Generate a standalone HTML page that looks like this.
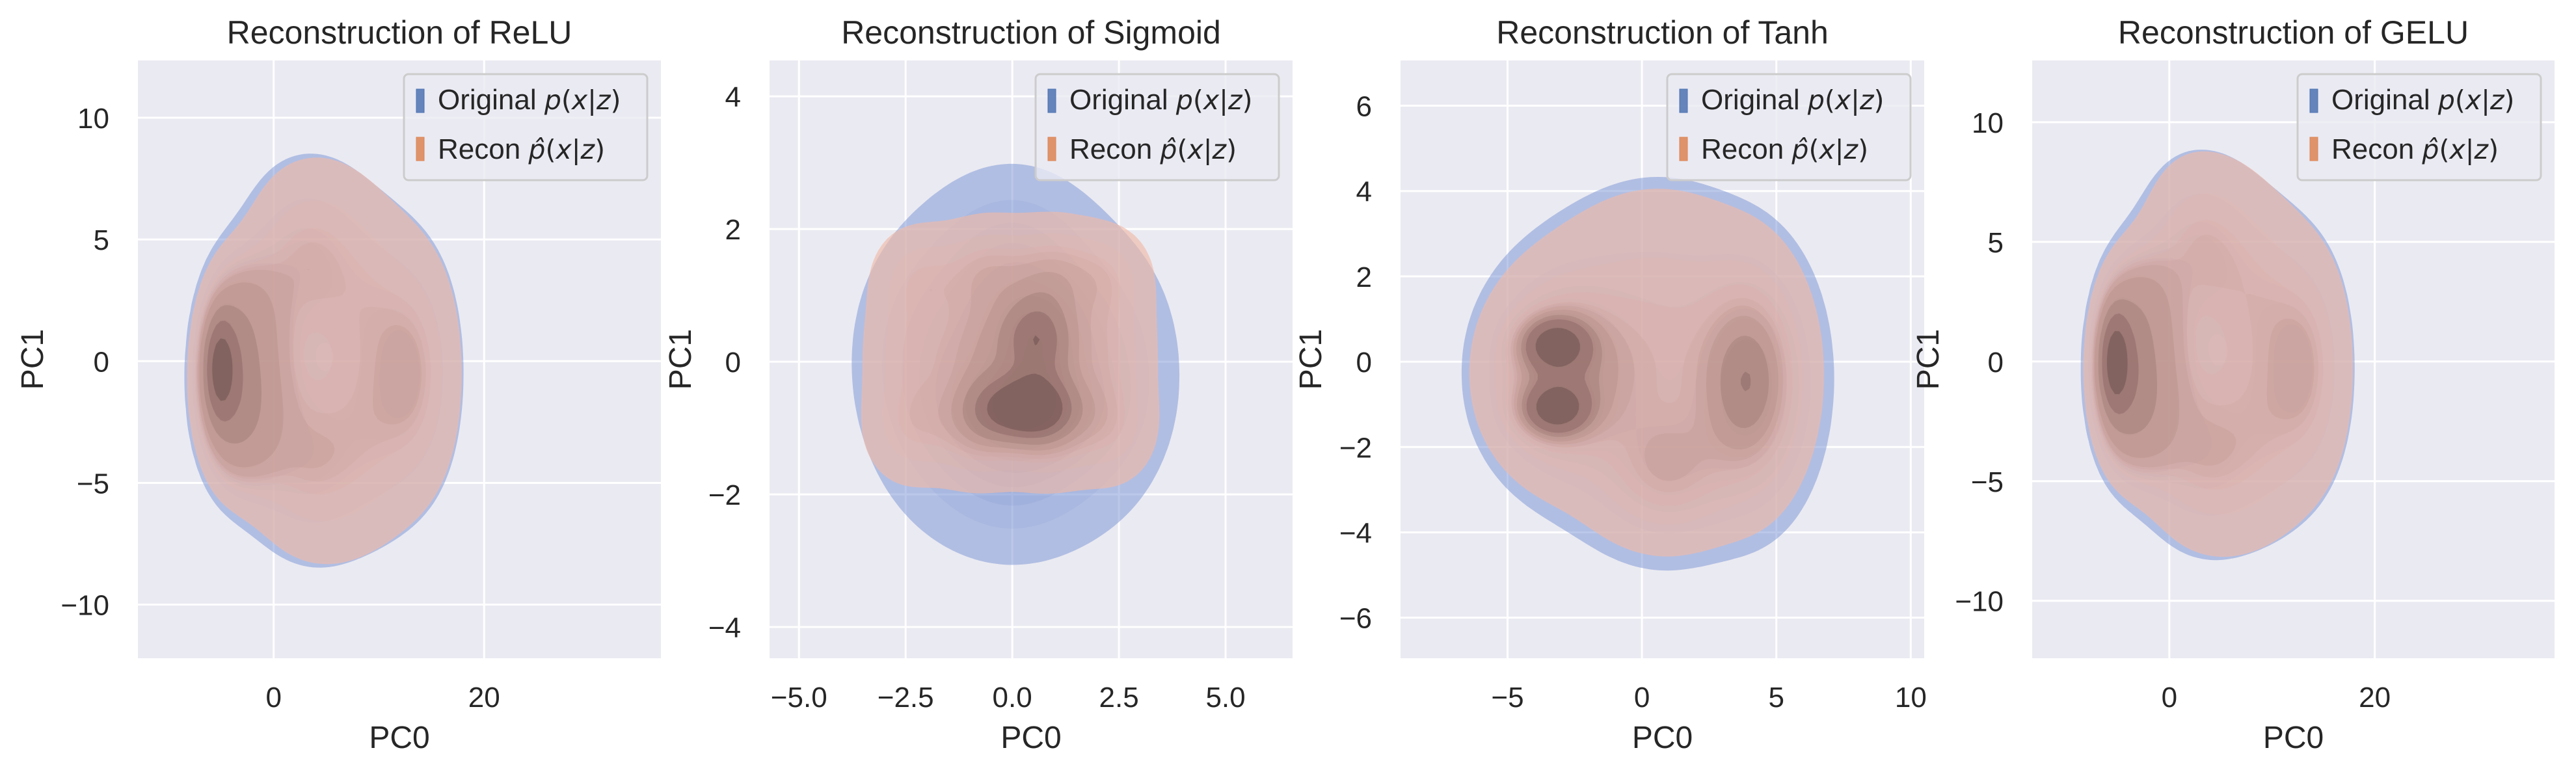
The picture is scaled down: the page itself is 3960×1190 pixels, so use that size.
<!DOCTYPE html>
<html><head><meta charset="utf-8">
<style>
html,body{margin:0;padding:0;background:#fff;}
svg{display:block;font-family:"Liberation Sans",sans-serif;}
.m{font-family:"DejaVu Sans",sans-serif;font-style:italic;font-size:41px;}
</style></head>
<body>
<svg id="fig" width="3960" height="1190" viewBox="0 0 3960 1190" xmlns="http://www.w3.org/2000/svg"></svg>
<script>
// ---- data: Gaussian-mixture components [meanX, meanY, sdX, sdY, weight] ----
const reluOrig = [[-5,-0.3,0.8,1.1,0.12],[-4.5,-0.5,1.6,2.0,0.13],[-3,-1,2.3,2.3,0.1],
 [-2.5,2,2.2,1.8,0.04],[-2.5,-2.5,2.2,1.8,0.04],[1,4.5,3.0,2.4,0.05],[0,0,3.2,3,0.05],[1,-4.2,3.0,2.4,0.05],[5,5,3.2,2.4,0.05],[5,0,3.2,3,0.05],[5,-5,3.2,2.4,0.05],[10,3,3.2,2.6,0.05],[10,-1,3.2,3,0.05],[10,-4,3.2,2.6,0.04],[14,1,2.6,2.6,0.04],[14,-2,2.6,2.6,0.04]];
const reluRecon = [[-5,-0.3,0.75,1.05,0.12],[-4.5,-0.5,1.5,1.9,0.13],[-3,-1,2.2,2.2,0.1],
 [-2.3,2,2.1,1.7,0.04],[-2.3,-2.5,2.1,1.7,0.04],[1.5,4.5,2.9,2.3,0.05],[0.5,0,3.1,2.9,0.05],[1.5,-4.2,2.9,2.3,0.05],[5.5,5,3.1,2.3,0.05],[5.5,0,3.1,2.9,0.05],[5.5,-5,3.1,2.3,0.05],[10,3,3.1,2.5,0.05],[10,-1,3.1,2.9,0.05],[10,-4,3.1,2.5,0.04],[14,1,2.5,2.5,0.04],[14,-2,2.5,2.5,0.04]];
const sigOrig = [[0.3,-0.7,1.0,0.45,0.14],[0.6,0.4,0.7,0.5,0.08],[0,0,1.5,1.2,0.34],[-2.0,0.0,1,1.1,0.11],[2.2,-0.2,1,1.1,0.11],[0,1.5,1.1,0.8,0.1],[0,-1.6,1.3,0.8,0.12]];
const sigRecon = [[-2.4,-1,0.7,0.55,0.06],[-0.8,-1,0.7,0.55,0.08],[0.8,-1,0.7,0.55,0.08],[2.3,-1,0.7,0.55,0.06],[-2.4,0.2,0.7,0.6,0.06],[-0.8,0.2,0.7,0.6,0.08],[0.8,0.2,0.7,0.6,0.08],[2.3,0.2,0.7,0.6,0.06],[-2.2,1.3,0.7,0.5,0.05],[-0.6,1.4,0.7,0.5,0.06],[0.9,1.4,0.7,0.5,0.06],[2.2,1.3,0.7,0.5,0.05],[0.3,-0.7,0.8,0.35,0.1],[0.5,0.4,0.6,0.45,0.06]];
const tanhOrig = [[-3.2,0.4,0.8,0.4,0.07],[-3.2,-1.1,0.8,0.4,0.07],[-3,-0.3,1.6,1.3,0.2],[4.1,-0.6,1.2,1.5,0.2],[0.6,0,3,2.3,0.38],[1,-2.6,1.6,1,0.08]];
const tanhRecon = [[-3.2,0.4,0.75,0.38,0.07],[-3.2,-1.1,0.75,0.38,0.07],[-3,-0.3,1.5,1.2,0.2],[4,-0.5,1.1,1.4,0.2],[0.6,0.1,2.8,2.1,0.38],[1,-2.6,1.5,0.9,0.08]];
const geluOrig = [[-5.2,0,0.8,1.1,0.12],[-4.7,-0.2,1.6,2.0,0.13],[-3,-0.6,2.3,2.3,0.1],
 [-2.5,2.3,2.2,1.8,0.04],[-2.5,-2.2,2.2,1.8,0.04],[1,5,3.0,2.4,0.05],[0,0.2,3.2,3,0.05],[1,-4,3.0,2.4,0.05],[5,5.2,3.2,2.4,0.05],[5,0.2,3.2,3,0.05],[5,-4.8,3.2,2.4,0.05],[10,3.2,3.2,2.6,0.05],[10,-0.8,3.2,3,0.05],[10,-4,3.2,2.6,0.04],[14,1.2,2.6,2.6,0.04],[14,-1.8,2.6,2.6,0.04]];
const geluRecon = [[-5.2,0,0.75,1.05,0.12],[-4.7,-0.2,1.5,1.9,0.13],[-3,-0.6,2.2,2.2,0.1],
 [-2.3,2.3,2.1,1.7,0.04],[-2.3,-2.2,2.1,1.7,0.04],[1.5,5.2,2.9,2.3,0.05],[0.5,0.2,3.1,2.9,0.05],[1.5,-4,2.9,2.3,0.05],[5.5,5.2,3.1,2.3,0.05],[5.5,0.2,3.1,2.9,0.05],[5.5,-4.8,3.1,2.3,0.05],[10,3.2,3.1,2.5,0.05],[10,-0.8,3.1,2.9,0.05],[10,-4,3.1,2.5,0.04],[14,1.2,2.5,2.5,0.04],[14,-1.8,2.5,2.5,0.04]];
// ---- axis ticks ----
const reluXTicks = [0, 20];
const reluYTicks = [-10, -5, 0, 5, 10];
const sigXTicks = [-5, -2.5, 0, 2.5, 5];
const sigXLabels = ["−5.0","−2.5","0.0","2.5","5.0"];
const sigYTicks = [-4, -2, 0, 2, 4];
const tanhXTicks = [-5, 0, 5, 10];
const tanhYTicks = [-6, -4, -2, 0, 2, 4, 6];
const isoLevels = [0.05,0.155,0.261,0.367,0.472,0.578,0.683,0.789,0.894];
const titles = ["Reconstruction of ReLU","Reconstruction of Sigmoid","Reconstruction of Tanh","Reconstruction of GELU"];

const panels = [
 {key:"relu", L:212,R:1016,T:93,B:1012, xlim:[-12.9,36.8], ylim:[-12.2,12.35], xt:reluXTicks, yt:reluYTicks, orig:reluOrig, rec:reluRecon, ylx:49},
 {key:"sigmoid", L:1183,R:1987,T:93,B:1012, xlim:[-5.69,6.57], ylim:[-4.47,4.54], xt:sigXTicks, xl:sigXLabels, yt:sigYTicks, orig:sigOrig, rec:sigRecon, ylx:1045},
 {key:"tanh", L:2153,R:2958,T:93,B:1012, xlim:[-8.98,10.5], ylim:[-6.95,7.06], xt:tanhXTicks, yt:tanhYTicks, orig:tanhOrig, rec:tanhRecon, ylx:2014},
 {key:"gelu", L:3124,R:3927,T:93,B:1012, xlim:[-13.35,37.5], ylim:[-12.4,12.58], xt:reluXTicks, yt:reluYTicks, orig:geluOrig, rec:geluRecon, ylx:2963}
];

const NS="http://www.w3.org/2000/svg";
const svg=document.getElementById('fig');
function el(tag, attrs, parent){const e=document.createElementNS(NS,tag);for(const k in attrs)e.setAttribute(k,attrs[k]);(parent||svg).appendChild(e);return e;}
function fmt(v){return (v<0?"−":"")+Math.abs(v);}
function kde(comps,x,y){let s=0;for(const c of comps){const dx=(x-c[0])/c[2],dy=(y-c[1])/c[3];s+=c[4]/(c[2]*c[3])*Math.exp(-0.5*(dx*dx+dy*dy));}return s;}
function lerp(a,b,t){return a.map((v,i)=>Math.round(v+(b[i]-v)*t));}

const blueLight=[120,146,212], blueDark=[40,55,110];
const orangeLight=[240,186,168], orangeDark=[70,48,48];

function contourPath(g,N,xs,ys,t){
  let d="";
  for(let j=0;j<N;j++){
    let run=-1;
    for(let i=0;i<=N;i++){
      let full=false, any=false, c=null;
      if(i<N){
        c=[[xs[i],ys[j],g[j][i]],[xs[i+1],ys[j],g[j][i+1]],[xs[i+1],ys[j+1],g[j+1][i+1]],[xs[i],ys[j+1],g[j+1][i]]];
        full=c.every(p=>p[2]>=t); any=c.some(p=>p[2]>=t);
      }
      if(full){ if(run<0) run=i; continue; }
      if(run>=0){ d+=`M${xs[run].toFixed(1)} ${ys[j].toFixed(1)}H${xs[i].toFixed(1)}V${ys[j+1].toFixed(1)}H${xs[run].toFixed(1)}Z`; run=-1; }
      if(any){
        const pts=[];
        for(let k=0;k<4;k++){const a=c[k],b=c[(k+1)%4];
          if(a[2]>=t) pts.push([a[0],a[1]]);
          if((a[2]>=t)!==(b[2]>=t)){const f=(t-a[2])/(b[2]-a[2]);pts.push([a[0]+(b[0]-a[0])*f,a[1]+(b[1]-a[1])*f]);}
        }
        d+="M"+pts.map(p=>p[0].toFixed(1)+" "+p[1].toFixed(1)).join("L")+"Z";
      }
    }
  }
  return d;
}

function drawKDE(p, comps, light, dark, a0, a1, grp, label){
  const N=120, xs=[], ys=[], g=[];
  const sx=v=>p.xlim[0]+(v-p.L)/(p.R-p.L)*(p.xlim[1]-p.xlim[0]);
  const sy=v=>p.ylim[1]-(v-p.T)/(p.B-p.T)*(p.ylim[1]-p.ylim[0]);
  for(let i=0;i<=N;i++){xs.push(p.L+(p.R-p.L)*i/N);ys.push(p.T+(p.B-p.T)*i/N);}
  const vals=[];
  for(let j=0;j<=N;j++){const row=[];for(let i=0;i<=N;i++){const v=kde(comps,sx(xs[i]),sy(ys[j]));row.push(v);vals.push(v);}g.push(row);}
  const sorted=vals.slice().sort((a,b)=>a-b); const tot=sorted.reduce((a,b)=>a+b,0);
  const thr=[]; let cum=0, li=0;
  for(let k=0;k<sorted.length&&li<isoLevels.length;k++){cum+=sorted[k]; while(li<isoLevels.length && cum/tot>=isoLevels[li]){thr.push(sorted[k]);li++;}}
  thr.forEach((t,k)=>{
    const f=Math.pow(k/(thr.length-1),1.6);
    const col=lerp(light,dark,f);
    const path=el('path',{d:contourPath(g,N,xs,ys,t),fill:`rgb(${col})`,'fill-opacity':k===0?a0:(a1*(0.6+0.6*f)).toFixed(3)},grp);
    
    
  });
}

panels.forEach((p,pi)=>{
  const ax=el('g',{});
  
  
  const xmap=v=>p.L+(v-p.xlim[0])/(p.xlim[1]-p.xlim[0])*(p.R-p.L);
  const ymap=v=>p.B-(v-p.ylim[0])/(p.ylim[1]-p.ylim[0])*(p.B-p.T);
  const bg=el('rect',{x:p.L,y:p.T,width:p.R-p.L,height:p.B-p.T,fill:'#eaeaf2'},ax);
  
  
  const grid=el('g',{stroke:'#ffffff','stroke-width':3},ax);
  
  
  p.xt.forEach(v=>{const x=xmap(v);el('line',{x1:x,x2:x,y1:p.T,y2:p.B},grid);});
  p.yt.forEach(v=>{const y=ymap(v);el('line',{x1:p.L,x2:p.R,y1:y,y2:y},grid);});
  const clipId='clip'+pi;
  const cp=el('clipPath',{id:clipId},ax); el('rect',{x:p.L,y:p.T,width:p.R-p.L,height:p.B-p.T},cp);
  const og=el('g',{'clip-path':`url(#${clipId})`},ax);
  
  
  drawKDE(p,p.orig,blueLight,blueDark,0.5,0.2,og,p.key+'-original');
  const rg=el('g',{'clip-path':`url(#${clipId})`},ax);
  
  
  drawKDE(p,p.rec,orangeLight,orangeDark,0.65,0.24,rg,p.key+'-recon');
  p.xt.forEach((v,i)=>{const t=el('text',{x:xmap(v),y:1087,'font-size':44,fill:'#262626','text-anchor':'middle'},ax);t.textContent=p.xl?p.xl[i]:fmt(v);
    
    });
  p.yt.forEach(v=>{const t=el('text',{x:p.L-44,y:ymap(v)+16,'font-size':44,fill:'#262626','text-anchor':'end'},ax);t.textContent=fmt(v);
    
    });
  const xl=el('text',{x:(p.L+p.R)/2,y:1150,'font-size':48,fill:'#262626','text-anchor':'middle'},ax); xl.textContent='PC0';
  
  
  const yl=el('text',{x:p.ylx+17,y:(p.T+p.B)/2,'font-size':48,fill:'#262626','text-anchor':'middle',transform:`rotate(-90 ${p.ylx+17} ${(p.T+p.B)/2})`},ax); yl.textContent='PC1';
  
  
  const tt=el('text',{x:(p.L+p.R)/2,y:67,'font-size':50,fill:'#262626','text-anchor':'middle'},ax); tt.textContent=titles[pi];
  
  
  const lg=el('g',{},ax);
  
  
  const lx=p.R-395, ly=114;
  el('rect',{x:lx,y:ly,width:374,height:163,rx:7,fill:'#eaeaf2','fill-opacity':0.8,stroke:'#cccccc','stroke-width':3},lg);
  const e1=el('g',{},lg);
  
  
  el('rect',{x:lx+19,y:ly+23,width:12,height:36,fill:'#4c72b0','fill-opacity':0.85,stroke:'#4c72b0'},e1);
  const t1=el('text',{x:lx+52,y:ly+54,'font-size':44,fill:'#262626'},e1);
  t1.innerHTML='Original <tspan class="m">p</tspan><tspan font-family="DejaVu Sans" font-size="41">(</tspan><tspan class="m">x</tspan><tspan font-family="DejaVu Sans" font-size="41">|</tspan><tspan class="m">z</tspan><tspan font-family="DejaVu Sans" font-size="41">)</tspan>';
  const e2=el('g',{},lg);
  
  
  el('rect',{x:lx+19,y:ly+97,width:12,height:36,fill:'#dd8452','fill-opacity':0.85,stroke:'#dd8452'},e2);
  const t2=el('text',{x:lx+52,y:ly+130,'font-size':44,fill:'#262626'},e2);
  t2.innerHTML='Recon <tspan class="m">p̂</tspan><tspan font-family="DejaVu Sans" font-size="41">(</tspan><tspan class="m">x</tspan><tspan font-family="DejaVu Sans" font-size="41">|</tspan><tspan class="m">z</tspan><tspan font-family="DejaVu Sans" font-size="41">)</tspan>';
});
</script>
</body></html>
